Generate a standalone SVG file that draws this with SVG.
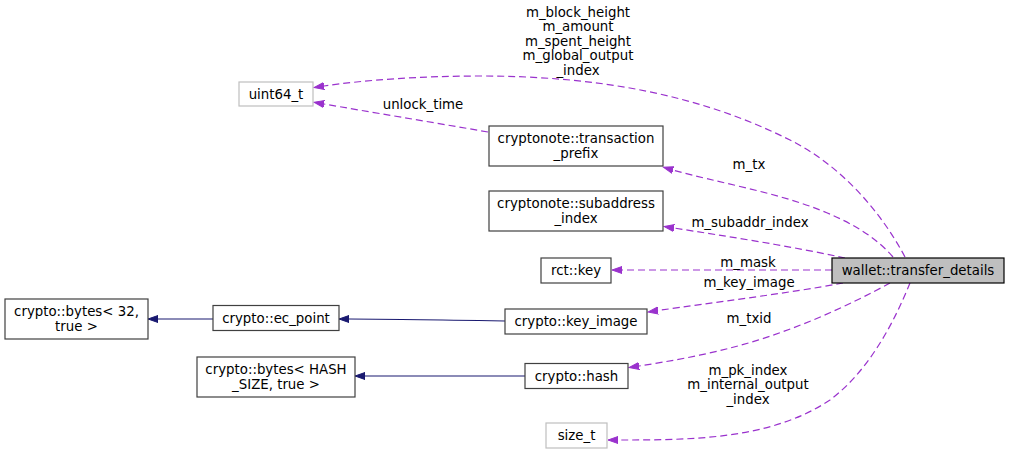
<svg xmlns="http://www.w3.org/2000/svg" width="1009" height="455" viewBox="0 0 1009 455">
<style>
text{font-family:"DejaVu Sans","Liberation Sans",sans-serif;font-size:13.33px;fill:#000;text-anchor:middle}
.n rect{fill:#fff;stroke:#404040;stroke-width:1.2}
.n.u rect{stroke:#bfbfbf}
.n.root rect{fill:#bfbfbf;stroke:#000}
.e{fill:none;stroke-width:1.2}
.p{stroke:#9a32cd;stroke-dasharray:7,4;marker-end:url(#ap)}
.b{stroke:#191970;marker-end:url(#ab)}
</style>
<defs>
<marker id="ap" markerUnits="userSpaceOnUse" markerWidth="12" markerHeight="10" refX="0" refY="4" orient="auto" viewBox="0 0 12 8"><path d="M0,0.5 L10,4 L0,7.5 z" fill="#9a32cd" stroke="#9a32cd"/></marker>
<marker id="ab" markerUnits="userSpaceOnUse" markerWidth="12" markerHeight="10" refX="0" refY="4" orient="auto" viewBox="0 0 12 8"><path d="M0,0.5 L10,4 L0,7.5 z" fill="#191970" stroke="#191970"/></marker>
</defs>
<rect width="1009" height="455" fill="#fff"/>
<g id="connectors">
<path class="e p" d="M905,257 C880,210 840,165 790,140 C700,95 600,76 480,76 C420,76 365,80 324,86"/>
<path class="e p" d="M488,132 C430,122 370,112 324,104"/>
<path class="e p" d="M893,257 C875,236 850,222 820,210 C775,192 715,182 673,170"/>
<path class="e p" d="M845,258 C790,246 725,236 674,228"/>
<path class="e p" d="M832,270 L622,270"/>
<path class="e p" d="M843,283 C790,293 710,303 658,310.5"/>
<path class="e p" d="M890,283 C850,305 790,333 730,348 C700,356 665,362 639,366"/>
<path class="e p" d="M910,283 C895,320 870,370 830,400 C770,440 690,440 618,440"/>
<path class="e b" d="M505,321 C450,320 390,319 349,319"/>
<path class="e b" d="M213,319 L158,319"/>
<path class="e b" d="M525,376 L365,376"/>
<text x="578" y="16.5">m_block_height</text>
<text x="578" y="31">m_amount</text>
<text x="578" y="45.5">m_spent_height</text>
<text x="578" y="60">m_global_output</text>
<text x="578" y="74.5">_index</text>
<text x="423" y="108.5">unlock_time</text>
<text x="749" y="168.5">m_tx</text>
<text x="750" y="227">m_subaddr_index</text>
<text x="748" y="266.5">m_mask</text>
<text x="749" y="286.5">m_key_image</text>
<text x="749" y="323">m_txid</text>
<text x="748" y="374.5">m_pk_index</text>
<text x="748" y="389">m_internal_output</text>
<text x="748" y="403.5">_index</text>
</g>
<g id="node-transfer_details" class="n root"><rect x="832" y="258" width="172" height="25"/><text x="918" y="275">wallet::transfer_details</text></g>
<g id="node-uint64_t" class="n u"><rect x="239" y="82" width="74" height="24"/><text x="276" y="98.5">uint64_t</text></g>
<g id="node-transaction_prefix" class="n"><rect x="489" y="126" width="174" height="40"/><text x="576" y="143">cryptonote::transaction</text><text x="576" y="157.5">_prefix</text></g>
<g id="node-subaddress_index" class="n"><rect x="489" y="191" width="174" height="40"/><text x="576" y="208">cryptonote::subaddress</text><text x="576" y="222.5">_index</text></g>
<g id="node-rct_key" class="n"><rect x="541" y="258" width="70" height="25"/><text x="576" y="274.5">rct::key</text></g>
<g id="node-key_image" class="n"><rect x="505" y="309" width="142" height="25"/><text x="576" y="326">crypto::key_image</text></g>
<g id="node-ec_point" class="n"><rect x="213" y="305.5" width="126" height="25"/><text x="276" y="322.5">crypto::ec_point</text></g>
<g id="node-bytes32" class="n"><rect x="5" y="299" width="143" height="40"/><text x="76.5" y="316">crypto::bytes&lt; 32,</text><text x="76.5" y="330.5">true &gt;</text></g>
<g id="node-hash" class="n"><rect x="525" y="363.5" width="103" height="25"/><text x="576.5" y="380.5">crypto::hash</text></g>
<g id="node-bytes_hash" class="n"><rect x="197" y="357" width="158" height="40"/><text x="276" y="374">crypto::bytes&lt; HASH</text><text x="276" y="388.5">_SIZE, true &gt;</text></g>
<g id="node-size_t" class="n u"><rect x="546" y="423" width="61" height="25"/><text x="576.5" y="440">size_t</text></g>
</svg>
